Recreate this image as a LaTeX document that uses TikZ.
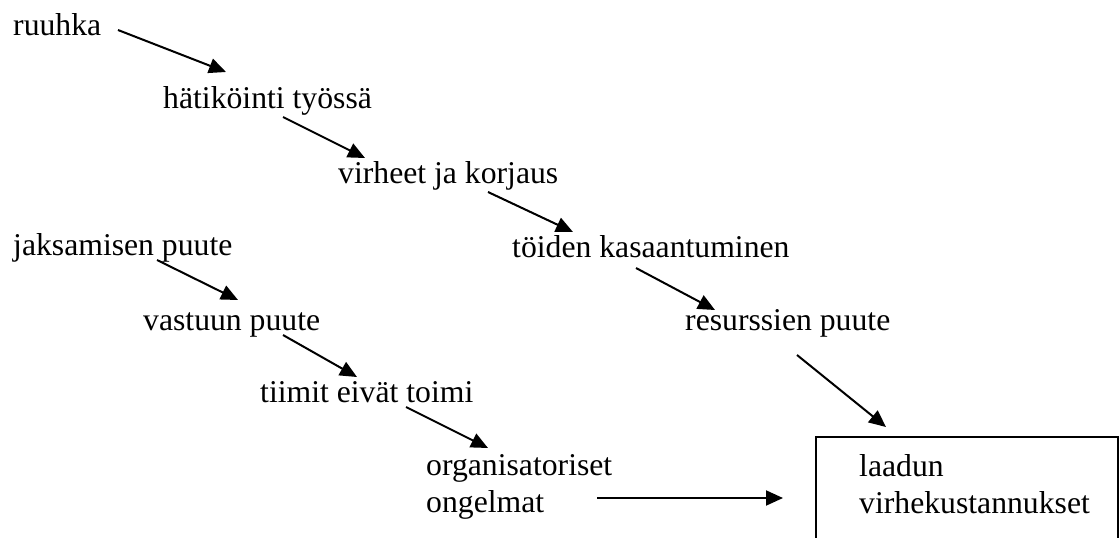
\documentclass[tikz,border=0pt]{standalone}
\usepackage{fontspec}
\setmainfont{Liberation Serif}
\usetikzlibrary{arrows.meta}
\begin{document}
\begin{tikzpicture}[x=1pt,y=-1pt,
  lbl/.style={inner sep=0pt,anchor=base west,font=\fontsize{31.7}{37}\selectfont},
  mlbl/.style={inner sep=0pt,anchor=north west,align=left,font=\fontsize{31.7}{37}\selectfont},
  arr/.style={line width=2pt,-{Triangle[length=17pt,width=15pt]}}]
\useasboundingbox (0,0) rectangle (1120,538);
\clip (0,0) rectangle (1120,538);
\fill[white] (0,0) rectangle (1120,538);
% texts
\node[lbl] (ruuhka) at (13,35) {ruuhka};
\node[lbl] (hatikointi) at (163,108) {hätiköinti työssä};
\node[lbl] (virheet) at (338,183) {virheet ja korjaus};
\node[lbl] (toiden) at (512,257) {töiden kasaantuminen};
\node[lbl] (resurssien) at (685,330) {resurssien puute};
\node[lbl] (jaksamisen) at (13,255) {jaksamisen puute};
\node[lbl] (vastuun) at (143,330) {vastuun puute};
\node[lbl] (tiimit) at (260,402) {tiimit eivät toimi};
\node[mlbl] (org) at (426,449.1) {\strut organisatoriset\\ongelmat};
\node[mlbl] (laadun) at (859,450.1) {\strut laadun\\virhekustannukset};
% box (bottom edge lies below the picture)
\draw[line width=2pt] (816,437) rectangle (1118,560);
% arrow end points
\coordinate (a1s) at (118,30);  \coordinate (a1e) at (226,72);
\coordinate (a2s) at (283,117); \coordinate (a2e) at (365,158);
\coordinate (a3s) at (488,192); \coordinate (a3e) at (573,232);
\coordinate (a4s) at (636,268); \coordinate (a4e) at (715,310);
\coordinate (a5s) at (797,355); \coordinate (a5e) at (886,427);
\coordinate (a7s) at (157,260); \coordinate (a7e) at (238,300);
\coordinate (a8s) at (283,335); \coordinate (a8e) at (357,377);
\coordinate (a9s) at (406,407); \coordinate (a9e) at (488,448);
\coordinate (a6s) at (597,498); \coordinate (a6e) at (783,498);
\draw[arr] (a1s) -- (a1e);
\draw[arr] (a2s) -- (a2e);
\draw[arr] (a3s) -- (a3e);
\draw[arr] (a4s) -- (a4e);
\draw[arr] (a5s) -- (a5e);
\draw[arr] (a7s) -- (a7e);
\draw[arr] (a8s) -- (a8e);
\draw[arr] (a9s) -- (a9e);
\draw[arr] (a6s) -- (a6e);
\end{tikzpicture}
\end{document}
